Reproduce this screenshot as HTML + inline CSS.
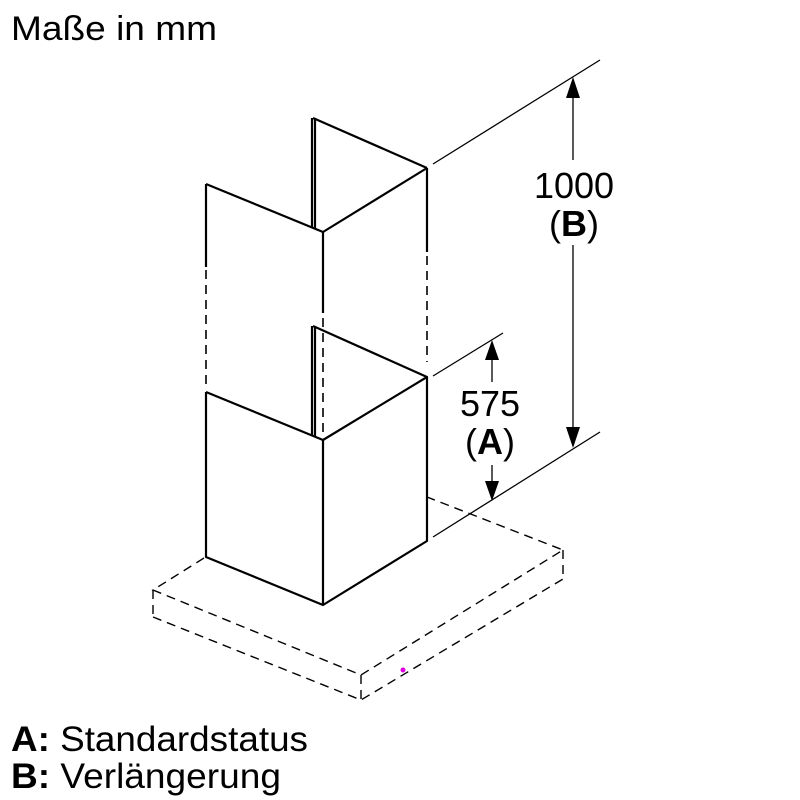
<!DOCTYPE html>
<html><head><meta charset="utf-8"><style>
html,body{margin:0;padding:0;background:#fff}
svg{display:block}
text{font-family:"Liberation Sans",Arial,sans-serif;fill:#000}
</style></head><body>
<svg width="800" height="800" viewBox="0 0 800 800" xmlns="http://www.w3.org/2000/svg">
<text x="11" y="40" font-size="34" textLength="206" lengthAdjust="spacingAndGlyphs">Maße in mm</text>

<g fill="none" stroke="#000" stroke-width="2.2" stroke-linejoin="round">
<path d="M206,184 L206,267"/>
<path d="M206,184 L323,232 L427,168"/>
<path d="M312,118 L312,228 M315,119 L315,229"/>
<path d="M313,118 L427,168"/>
<path d="M323,232 L323,313"/>
<path d="M427,168 L427,252"/>
<path d="M206,392 L206,557 L323,605 L427,541 L427,377 L323,440 L206,392"/>
<path d="M323,440 L323,605"/>
<path d="M312,326 L312,436 M315,327 L315,437"/>
<path d="M313,326 L427,377"/>
</g>
<g fill="none" stroke="#000" stroke-width="1.6" stroke-dasharray="9,6">
<path d="M206,270 L206,390"/>
<path d="M323,318 L323,432"/>
<path d="M427,256 L427,362"/>
</g>
<g fill="none" stroke="#000" stroke-width="1.4" stroke-dasharray="9,6">
<path d="M204,558 L153,590 L361,675 L563,550 L427,497"/>
<path d="M153,617 L361,700 L563,579"/>
<path d="M153,590 L153,617 M361,675 L361,700 M563,550 L563,579"/>
</g>
<g stroke="#000" stroke-width="1.3" fill="none">
<path d="M433,164 L600,60"/>
<path d="M433,376 L503,333"/>
<path d="M433,537 L600,432"/>
<path d="M573,95 L573,160 M573,245 L573,430"/>
<path d="M492,356 L492,382 M492,465 L492,483"/>
</g>
<g fill="#000">
<polygon points="573,77 566,98 580,98"/>
<polygon points="573,448 566,427 580,427"/>
<polygon points="492,340 485,360 499,360"/>
<polygon points="492,501 485,481 499,481"/>
</g>
<text x="574" y="198" font-size="36" text-anchor="middle">1000</text>
<text x="574" y="236" font-size="36" text-anchor="middle">(<tspan font-weight="bold">B</tspan>)</text>
<text x="490" y="416" font-size="36" text-anchor="middle">575</text>
<text x="490" y="454" font-size="36" text-anchor="middle">(<tspan font-weight="bold">A</tspan>)</text>
<circle cx="403" cy="670" r="2.5" fill="#e000e0"/>

<text x="11" y="751" font-size="35" textLength="297" lengthAdjust="spacingAndGlyphs"><tspan font-weight="bold">A:</tspan> Standardstatus</text>
<text x="11" y="788" font-size="35" textLength="270" lengthAdjust="spacingAndGlyphs"><tspan font-weight="bold">B:</tspan> Verlängerung</text>
</svg>
</body></html>
